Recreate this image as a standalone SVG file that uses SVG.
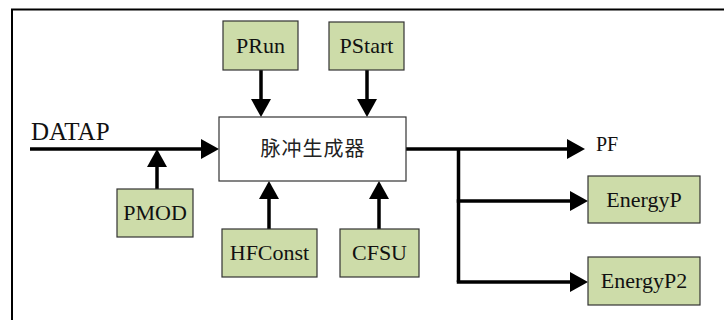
<svg xmlns="http://www.w3.org/2000/svg" width="724" height="320" viewBox="0 0 724 320">
<defs>
<marker id="ah" markerUnits="userSpaceOnUse" markerWidth="20" markerHeight="20" refX="2" refY="10" orient="auto" viewBox="0 0 18 20">
<path d="M0,0 L18,10 L0,20 z" fill="#000"/>
</marker>
<style>
.box{fill:#cddca9;stroke:#333;stroke-width:1.2}
.main{fill:#fff;stroke:#333;stroke-width:1.2}
.lbl{font-family:"Liberation Serif","Times New Roman",serif;font-size:22px;font-weight:400;fill:#111;text-anchor:middle}
.cn{font-family:"Noto Sans CJK SC","Noto Sans CJK JP",sans-serif;font-size:20px;font-weight:400;fill:#222;text-anchor:middle;letter-spacing:1px}
.ln{fill:none;stroke:#000;stroke-width:3.5}
.arr{fill:none;stroke:#000;stroke-width:3.5;marker-end:url(#ah)}
.free{font-family:"Liberation Serif","Times New Roman",serif;font-weight:400;fill:#111}
</style>
</defs>
<rect width="724" height="320" fill="#fff"/>
<path d="M12,320 V9.5 H724" fill="none" stroke="#000" stroke-width="2"/>

<g id="connectors">
<line class="arr" x1="261" y1="70" x2="261" y2="101"/>
<line class="arr" x1="367" y1="70" x2="367" y2="101"/>
<line class="arr" x1="30" y1="149" x2="203" y2="149"/>
<line class="arr" x1="157" y1="189" x2="157" y2="165"/>
<line class="arr" x1="269" y1="229" x2="269" y2="197"/>
<line class="arr" x1="379" y1="229" x2="379" y2="197"/>
<line class="arr" x1="406" y1="149" x2="569" y2="149"/>
<path class="ln" d="M458.5,149 V282"/>
<line class="arr" x1="456.75" y1="201" x2="572" y2="201"/>
<line class="arr" x1="456.75" y1="282" x2="572" y2="282"/>
<text class="free" x="31" y="140" font-size="25">DATAP</text>
<text class="free" x="596" y="151" font-size="20">PF</text>
</g>

<g id="pulse-generator">
<rect class="main" x="219" y="117" width="187" height="64"/>
<text class="cn" x="313" y="156">脉冲生成器</text>
</g>
<g id="PRun">
<rect class="box" x="223" y="21" width="75" height="49"/>
<text class="lbl" x="260.5" y="53">PRun</text>
</g>
<g id="PStart">
<rect class="box" x="329" y="22" width="75" height="48"/>
<text class="lbl" x="366.5" y="53">PStart</text>
</g>
<g id="PMOD">
<rect class="box" x="117" y="189" width="76" height="48"/>
<text class="lbl" x="155" y="220">PMOD</text>
</g>
<g id="HFConst">
<rect class="box" x="222" y="229" width="95" height="48"/>
<text class="lbl" x="269.5" y="260">HFConst</text>
</g>
<g id="CFSU">
<rect class="box" x="340" y="229" width="79" height="48"/>
<text class="lbl" x="379.5" y="260">CFSU</text>
</g>
<g id="EnergyP">
<rect class="box" x="588" y="176" width="112" height="47"/>
<text class="lbl" x="644" y="207">EnergyP</text>
</g>
<g id="EnergyP2">
<rect class="box" x="588" y="257" width="112" height="48"/>
<text class="lbl" x="644" y="288">EnergyP2</text>
</g>
</svg>
